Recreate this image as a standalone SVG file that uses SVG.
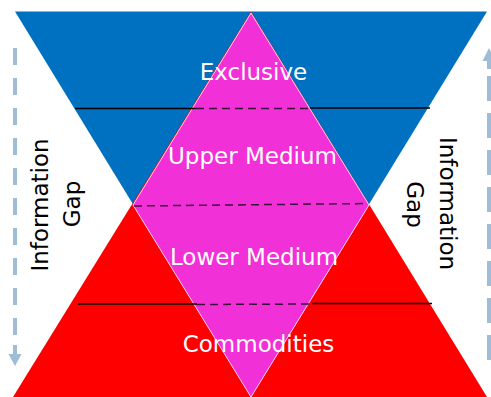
<svg xmlns="http://www.w3.org/2000/svg" width="491" height="397" viewBox="0 0 491 397">
  <style>
    .lbl { font-family: "DejaVu Sans", "Liberation Sans", sans-serif; font-size: 23px; fill: #ffffff; text-anchor: middle; }
    .gap { font-family: "DejaVu Sans", "Liberation Sans", sans-serif; font-size: 23px; fill: #000000; text-anchor: middle; }
    .solid { stroke: #000000; stroke-width: 1.5; fill: none; }
    .dash { stroke: #3a1038; stroke-width: 1.5; stroke-dasharray: 8 5; fill: none; }
    .arr { stroke: #9FBCD8; stroke-width: 4; fill: none; }
    .head { fill: #9FBCD8; }
  </style>
  <rect width="491" height="397" fill="#ffffff"/>

  <g id="top-triangle">
    <polygon points="15,11.5 487,11.5 251,397" fill="#0070C0"/>
  </g>
  <g id="bottom-triangle">
    <polygon points="13,397 487,397 251,11.5" fill="#FF0000"/>
  </g>
  <g id="diamond">
    <polygon points="251,13 133,205 251,397 369,205" fill="#F230D8" stroke="#FBD0F4" stroke-width="1"/>
  </g>

  <g id="connectors">
    <line class="solid" x1="75" y1="108.5" x2="196" y2="108.5"/>
    <line class="dash" x1="196" y1="108.5" x2="310" y2="108.5"/>
    <line class="solid" x1="310" y1="108" x2="430" y2="108"/>
    <line class="dash" x1="134" y1="206" x2="368" y2="203.5"/>
    <line class="solid" x1="78" y1="304" x2="197" y2="304"/>
    <line class="dash" x1="197" y1="304.5" x2="312" y2="304"/>
    <line class="solid" x1="312" y1="303.5" x2="432" y2="303.5"/>
    <!-- left information-gap arrow (down) -->
    <line class="arr" x1="15" y1="48" x2="15" y2="336" stroke-dasharray="17 13"/>
    <line class="arr" x1="15" y1="345" x2="15" y2="356"/>
    <polygon class="head" points="8.5,354 21.5,354 15,366"/>
    <!-- right information-gap arrow (up) -->
    <polygon class="head" points="482.5,61 495.5,61 489,48"/>
    <line class="arr" x1="489" y1="58" x2="489" y2="69"/>
    <line class="arr" x1="489" y1="360" x2="489" y2="72" stroke-dasharray="25 12"/>
  </g>

  <g id="label-exclusive"><text class="lbl" x="253.5" y="80">Exclusive</text></g>
  <g id="label-upper"><text class="lbl" x="252.5" y="164">Upper Medium</text></g>
  <g id="label-lower"><text class="lbl" x="254" y="265">Lower Medium</text></g>
  <g id="label-commodities"><text class="lbl" x="258.5" y="352">Commodities</text></g>

  <g id="gap-left">
    <text class="gap" transform="translate(48,205) rotate(-90)">Information</text>
    <text class="gap" transform="translate(80,204) rotate(-90)">Gap</text>
  </g>
  <g id="gap-right">
    <text class="gap" transform="translate(440,203.5) rotate(90)">Information</text>
    <text class="gap" transform="translate(407,204.5) rotate(90)">Gap</text>
  </g>
</svg>
